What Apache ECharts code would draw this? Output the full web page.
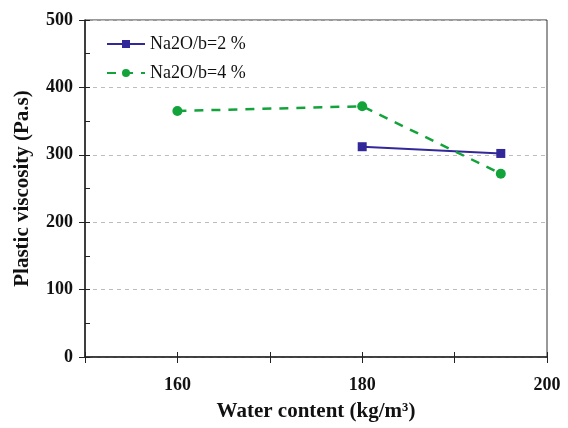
<!DOCTYPE html>
<html>
<head>
<meta charset="utf-8">
<script src="https://cdn.jsdelivr.net/npm/echarts@6/dist/echarts.min.js"></script>
<style>
  html, body { margin: 0; padding: 0; background: #fff; }
  #chart { width: 568px; height: 428px; }
</style>
</head>
<body>
<div id="chart"></div>
<script>
// data
const waterContent2 = [180, 195];
const viscosity2 = [312, 302];
const waterContent4 = [160, 180, 195];
const viscosity4 = [365, 372, 272];
const seriesNames = ['Na2O/b=2 %', 'Na2O/b=4 %'];

const serif = '"Liberation Serif", "DejaVu Serif", serif';

function pairs(xs, ys) {
  return xs.map((x, i) => [x, ys[i]]);
}

const chart = echarts.init(document.getElementById('chart'));

chart.setOption({
  animation: false,
  grid: {
    left: 85, right: 21, top: 20, bottom: 71,
    containLabel: false, outerBoundsMode: 'none',
    show: true, borderColor: '#333', borderWidth: 1
  },
  legend: {
    left: 101, top: 30, orient: 'vertical',
    itemWidth: 38, itemHeight: 10, itemGap: 11,
    textStyle: { fontFamily: serif, fontSize: 18, color: '#111' },
    data: seriesNames
  },
  xAxis: [
    {
      type: 'value', min: 150, max: 200, interval: 10,
      name: 'Water content (kg/m³)', nameLocation: 'middle', nameGap: 44,
      nameTextStyle: { fontFamily: serif, fontSize: 21, fontWeight: 'bold', color: '#111' },
      axisLine: { lineStyle: { color: '#222', width: 1.5 } },
      axisTick: {
        length: 6,
        interval: (i, v) => v % 20 === 0 || v === 150,
        lineStyle: { color: '#222' }
      },
      axisLabel: {
        margin: 19,
        fontFamily: serif, fontSize: 18, fontWeight: 'bold', color: '#111',
        formatter: v => (v % 20 === 0 ? v : '')
      },
      splitLine: { show: false }
    },
    {
      type: 'value', min: 150, max: 200, interval: 10, position: 'bottom',
      axisLine: { show: false },
      axisTick: { inside: true, length: 5, interval: (i, v) => v % 20 === 10 && v !== 150, lineStyle: { color: '#222' } },
      axisLabel: { show: false },
      splitLine: { show: false }
    }
  ],
  yAxis: [
    {
      type: 'value', min: 0, max: 500, interval: 100,
      name: 'Plastic viscosity (Pa.s)', nameLocation: 'middle', nameGap: 52,
      nameTextStyle: { fontFamily: serif, fontSize: 21, fontWeight: 'bold', color: '#111' },
      axisLine: { show: true, lineStyle: { color: '#222', width: 1.5 } },
      axisTick: { show: true, length: 6, lineStyle: { color: '#222' } },
      axisLabel: { margin: 12, fontFamily: serif, fontSize: 18, fontWeight: 'bold', color: '#111' },
      splitLine: { show: true, lineStyle: { color: '#bdbdbd', type: [4, 4], width: 1 } }
    },
    {
      type: 'value', min: 0, max: 500, interval: 50, position: 'left',
      axisLine: { show: false },
      axisTick: { show: true, inside: true, length: 5, interval: (i, v) => v % 100 === 50, lineStyle: { color: '#222' } },
      axisLabel: { show: false },
      splitLine: { show: false }
    }
  ],
  series: [
    {
      name: seriesNames[0], type: 'line',
      data: pairs(waterContent2, viscosity2),
      symbol: 'rect', symbolSize: 9,
      itemStyle: { color: '#33289a' },
      lineStyle: { color: '#33289a', width: 2 }
    },
    {
      name: seriesNames[1], type: 'line',
      data: pairs(waterContent4, viscosity4),
      symbol: 'circle', symbolSize: 10,
      itemStyle: { color: '#13a33b' },
      lineStyle: { color: '#13a33b', width: 2.5, type: [9, 8] }
    }
  ]
});
</script>
</body>
</html>
